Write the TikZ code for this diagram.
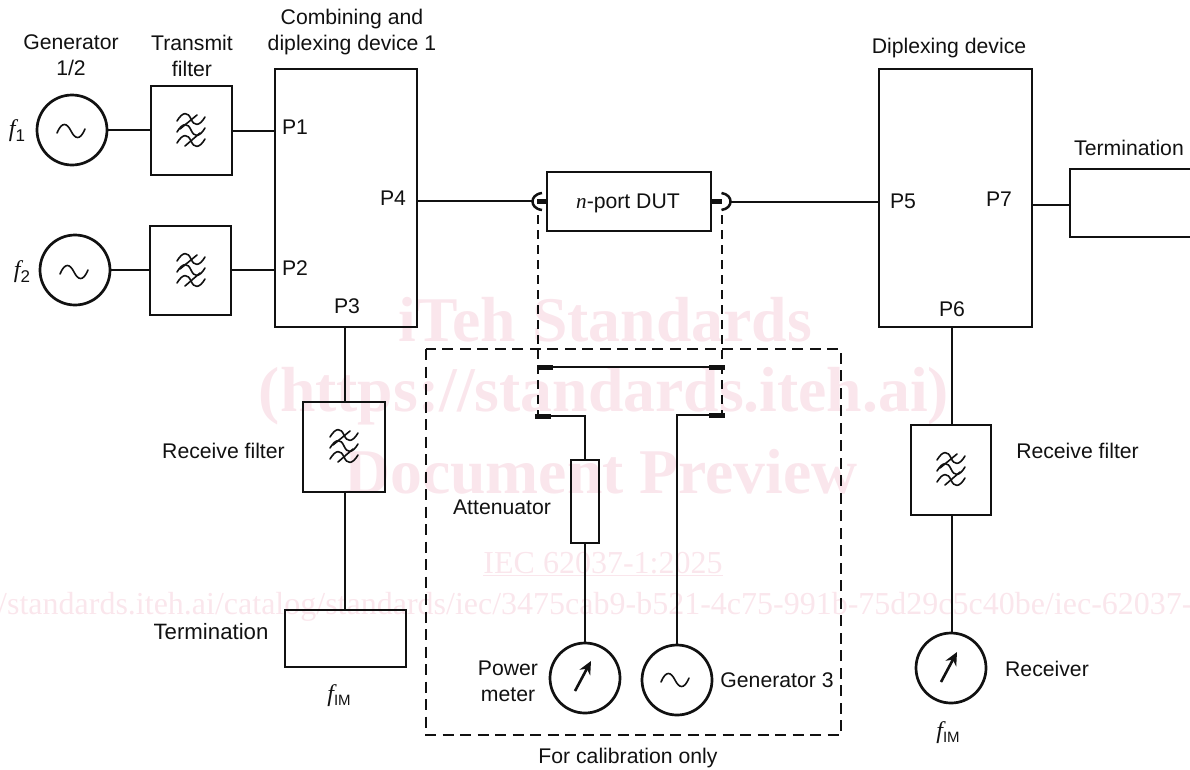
\documentclass[tikz,border=0pt]{standalone}
\usepackage{fontspec}
\setmainfont{Liberation Sans}
\newfontfamily\serifwm{Liberation Serif}
\newcommand{\lbl}{\fontsize{21.2}{25.6}\selectfont}
\definecolor{wm}{HTML}{FAE6EC}
\definecolor{ink}{HTML}{111111}
\usetikzlibrary{arrows.meta}
\tikzset{
  box/.style={draw=ink,line width=2.7pt,rectangle,inner sep=0pt,outer sep=0pt,anchor=north west},
  dev/.style={draw=ink,line width=2.7pt,circle,inner sep=0pt,outer sep=0pt,minimum size=70pt},
  wire/.style={draw=ink,line width=2.5pt},
  thickstub/.style={draw=ink,line width=5pt},
  dashline/.style={draw=ink,line width=2.4pt,dash pattern=on 11pt off 6.5pt},
  txt/.style={font=\lbl,text=ink,inner sep=0pt,align=center},
  wmb/.style={text=wm,inner sep=0pt,font=\serifwm\bfseries\fontsize{63.7}{70}\selectfont},
  wmr/.style={text=wm,inner sep=0pt,font=\serifwm\fontsize{32}{36}\selectfont},
  sym/.style={draw=ink,line width=1.6pt,line cap=round},
  meter/.style={draw=ink,line width=2.6pt,-{Stealth[length=13pt,width=12pt]}},
}
\newcommand{\tildesym}[2]{%
  \draw[sym] (#1-14,#2+2) .. controls (#1-9,#2-10) and (#1-4,#2-8) .. (#1,#2) .. controls (#1+4,#2+8) and (#1+9,#2+10) .. (#1+14,#2-2);}
\newcommand{\wave}[2]{%
  \draw[sym] (#1-14,#2+2) .. controls (#1-8,#2-8) and (#1-3,#2-7) .. (#1,#2) .. controls (#1+3,#2+7) and (#1+8,#2+8) .. (#1+14,#2-2);}
\newcommand{\filtersym}[2]{%
  \wave{#1}{#2-11}\wave{#1}{#2}\wave{#1}{#2+11}%
  \draw[sym] (#1-11,#2-1) -- (#1+6,#2-15);
  \draw[sym] (#1-6,#2+16) -- (#1+9,#2+3);}
\begin{document}
\begin{tikzpicture}[x=1pt,y=-1pt]
\useasboundingbox (0,0) rectangle (1190,769);
\clip (0,0) rectangle (1190,769);
% watermark
\node[wmb] (wm1) at (605,320) {iTeh Standards};
\node[wmb] (wm2) at (604,396) {(https://standards.iteh.ai)};
\node[wmb] (wm3) at (601,472) {Document Preview};
\node[wmr] (wm4) at (603,564) {\underline{IEC 62037-1:2025}};
\node[wmr,anchor=west] (wm5) at (-2,607) {/standards.iteh.ai/catalog/standards/iec/3475cab9-b521-4c75-991b-75d29c5c40be/iec-62037-};
% devices
\node[dev] (g1) at (72,130) {};
\node[dev] (g2) at (75,270) {};
\node[box,minimum width=81pt,minimum height=89pt] (tf1) at (151,86) {};
\node[box,minimum width=81pt,minimum height=89pt] (tf2) at (150,226) {};
\node[box,minimum width=142pt,minimum height=258pt] (cd) at (275,69) {};
\node[box,minimum width=164pt,minimum height=59pt] (dut) at (547,172) {};
\node[box,minimum width=153pt,minimum height=258pt] (dd) at (879,69) {};
\node[box,minimum width=125pt,minimum height=68pt] (tr) at (1070,169) {};
\node[box,minimum width=82pt,minimum height=90pt] (rf1) at (303,402) {};
\node[box,minimum width=121pt,minimum height=57pt] (tb) at (285,610) {};
\node[box,minimum width=80pt,minimum height=90pt] (rf2) at (911,425) {};
\node[box,minimum width=28pt,minimum height=83pt] (att) at (571,460) {};
\node[dev] (pm) at (585,678) {};
\node[dev] (g3) at (677,680) {};
\node[dev] (rx) at (951,668) {};
% dashed box
\draw[dashline] (426,349) rectangle (841,735);
% named points
\coordinate (la) at (532,201);
\coordinate (ra) at (731,202);
\coordinate (sl) at (545,367);
\coordinate (sr) at (717,367);
\coordinate (ll) at (543,416);
\coordinate (lr) at (717,415);
% wires
\draw[wire] (g1.east) -- (tf1.west |- g1.east);
\draw[wire] (tf1.east |- 0,131) -- (cd.west |- 0,131);
\draw[wire] (g2.east) -- (tf2.west |- g2.east);
\draw[wire] (tf2.east |- 0,270) -- (cd.west |- 0,270);
\draw[wire] (cd.south -| 345,0) -- (rf1.north -| 345,0);
\draw[wire] (rf1.south -| 345,0) -- (tb.north -| 345,0);
\draw[wire] (cd.east |- la) -- (la);
\draw[wire] (ra) -- (dd.west |- ra);
\draw[wire] (dd.east |- 0,205) -- (tr.west |- 0,205);
\draw[wire] (dd.south -| 952,0) -- (rf2.north -| 952,0);
\draw[wire] (rf2.south -| 952,0) -- (rx.north -| 952,0);
\draw[wire] (sl) -- (sr);
\draw[wire] (ll) -| (att.north);
\draw[wire] (att.south) -- (pm.north);
\draw[wire] (lr) -| (g3.north);
% dashed connections
\draw[dashline,line width=2pt,dash pattern=on 9pt off 6pt] (538,215) -- (538,414);
\draw[dashline,line width=2pt,dash pattern=on 9pt off 6pt] (722,215) -- (722,414);
% connector stubs
\draw[thickstub] (537,201.5) -- (dut.west |- 0,201.5);
\draw[thickstub] (dut.east |- 0,201.5) -- (722,201.5);
\draw[thickstub] (537,367) -- (553,367);
\draw[thickstub] (709,367) -- (725,367);
\draw[thickstub] (535,416) -- (551,416);
\draw[thickstub] (709,415) -- (725,415);
\draw[wire] (542,193) .. controls (535,194) and (532.5,198) .. (532.5,201.5) .. controls (532.5,205) and (535,209) .. (542,210);
\draw[wire] (721.5,193) .. controls (728,194) and (730.5,198) .. (730.5,201.5) .. controls (730.5,205) and (728,209) .. (721.5,210);
% symbols
\tildesym{71}{131}
\tildesym{74}{272}
\tildesym{675}{680}
\filtersym{191}{130}
\filtersym{191}{270}
\filtersym{344}{446}
\filtersym{951}{469}
\draw[meter] (575,691) -- (591,661);
\draw[meter] (941,682) -- (957,652);
% labels
\node[txt] (t1) at (71,55) {Generator\\1/2};
\node[txt] (t2) at (192,56) {Transmit\\filter};
\node[txt] (t3) at (352,32) {Combining and\\diplexing device 1};
\node[txt] (t4) at (949,48) {Diplexing device};
\node[txt] (t5) at (1129,148) {Termination};
\node[txt] (t6) at (223.5,451) {Receive filter};
\node[txt] (t7) at (1077.5,451) {Receive filter};
\node[txt] (t8) at (502,507) {Attenuator};
\node[txt,font=\fontsize{22.2}{26}\selectfont] (t9) at (211,632) {Termination};
\node[txt] (t10) at (508,681) {Power\\meter};
\node[txt] (t11) at (777,680) {Generator 3};
\node[txt] (t12) at (1047,669) {Receiver};
\node[txt] (t13) at (628,758) {For calibration only};
\node[txt] (p1) at (295,127) {P1};
\node[txt] (p2) at (295,268) {P2};
\node[txt] (p3t) at (347,306) {P3};
\node[txt] (p4) at (393,198) {P4};
\node[txt] (p5) at (903,201) {P5};
\node[txt] (p6) at (952,309) {P6};
\node[txt] (p7) at (999,199) {P7};
\node[txt] (dutt) at (628,203) {{\serifwm\itshape n}-port DUT};
\node[txt] (f1) at (17,131) {{\serifwm\itshape\fontsize{24}{26}\selectfont f}\raisebox{-5pt}{\fontsize{17}{20}\selectfont 1}};
\node[txt] (f2) at (22,272) {{\serifwm\itshape\fontsize{24}{26}\selectfont f}\raisebox{-5pt}{\fontsize{17}{20}\selectfont 2}};
\node[txt] (f3) at (339,696) {{\serifwm\itshape\fontsize{24}{26}\selectfont f}\raisebox{-4pt}{\fontsize{15}{18}\selectfont IM}};
\node[txt] (f4) at (948,733) {{\serifwm\itshape\fontsize{24}{26}\selectfont f}\raisebox{-4pt}{\fontsize{15}{18}\selectfont IM}};
\end{tikzpicture}
\end{document}
